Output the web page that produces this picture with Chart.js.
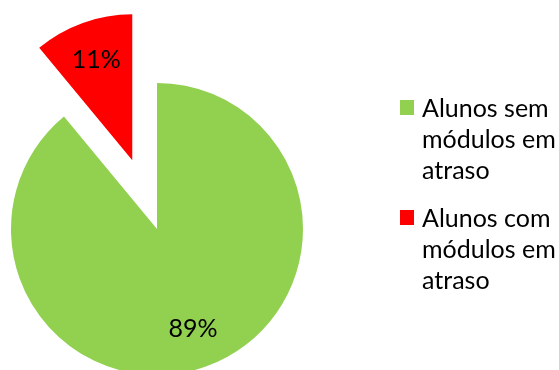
<!DOCTYPE html>
<html>
<head>
<meta charset="utf-8">
<script src="https://cdn.jsdelivr.net/npm/chart.js@4/dist/chart.umd.min.js"></script>
<style>
    body { margin: 0; background: #fff; overflow: hidden; }
    #wrap { position: relative; width: 559px; height: 370px; overflow: hidden; }
    #myChart { position: absolute; left: 0; top: 0; }
    #legend { position: absolute; left: 400px; top: 92px; width: 170px; font-family: Lato, sans-serif; font-size: 25px; color: #000; }
    .item { display: flex; align-items: flex-start; margin-bottom: 17px; }
    .box { width: 14px; height: 15px; margin-top: 8px; margin-right: 8px; flex: none; }
    .txt { line-height: 31px; width: 140px; }
</style>
</head>
<body>
<div id="wrap">
    <canvas id="myChart" width="559" height="370"></canvas>
    <div id="legend"></div>
</div>
<script>
    const labels = ["Alunos sem módulos em atraso", "Alunos com módulos em atraso"];
    const percentages = [89, 11];
    const colors = ['#92D050', '#FF0000'];
    const explode = [0, 73];

    function midAngle(arc) {
        const p = arc.getProps(['startAngle', 'endAngle']);
        return (p.startAngle + p.endAngle) / 2;
    }

    // pull slices out along their bisector without resizing them
    const explodeSlices = {
        id: 'explodeSlices',
        beforeDatasetDraw(chart, args) {
            const ctx = chart.ctx;
            args.meta.data.forEach(function (arc, i) {
                const mid = midAngle(arc);
                ctx.save();
                ctx.translate(Math.cos(mid) * explode[i], Math.sin(mid) * explode[i]);
                arc.draw(ctx);
                ctx.restore();
            });
            return false;
        }
    };

    // percentage labels inside each slice
    const sliceLabels = {
        id: 'sliceLabels',
        afterDatasetsDraw(chart) {
            const ctx = chart.ctx;
            const meta = chart.getDatasetMeta(0);
            ctx.save();
            ctx.font = '25px Lato, sans-serif';
            ctx.fillStyle = '#000';
            ctx.textAlign = 'center';
            ctx.textBaseline = 'middle';
            meta.data.forEach(function (arc, i) {
                const p = arc.getProps(['x', 'y', 'outerRadius']);
                const mid = midAngle(arc);
                const r = p.outerRadius * 0.73 + explode[i];
                ctx.fillText(percentages[i] + '%', p.x + Math.cos(mid) * r, p.y + Math.sin(mid) * r);
            });
            ctx.restore();
        }
    };

    const ctx = document.getElementById('myChart').getContext('2d');
    const chart = new Chart(ctx, {
        type: 'pie',
        data: {
            labels: labels,
            datasets: [{
                data: percentages,
                backgroundColor: colors,
                borderWidth: 0,
                clip: false
            }]
        },
        options: {
            responsive: false,
            animation: false,
            radius: 146,
            layout: { padding: { left: 0, right: 245, top: 88, bottom: 0 } },
            plugins: {
                legend: { display: false },
                tooltip: { enabled: false }
            }
        },
        plugins: [explodeSlices, sliceLabels]
    });

    // legend on the right, wrapped like the original
    const legend = document.getElementById('legend');
    labels.forEach(function (label, i) {
        const item = document.createElement('div');
        item.className = 'item';
        item.innerHTML = '<div class="box" style="background:' + colors[i] + '"></div><div class="txt">' + label + '</div>';
        legend.appendChild(item);
    });
</script>
</body>
</html>
